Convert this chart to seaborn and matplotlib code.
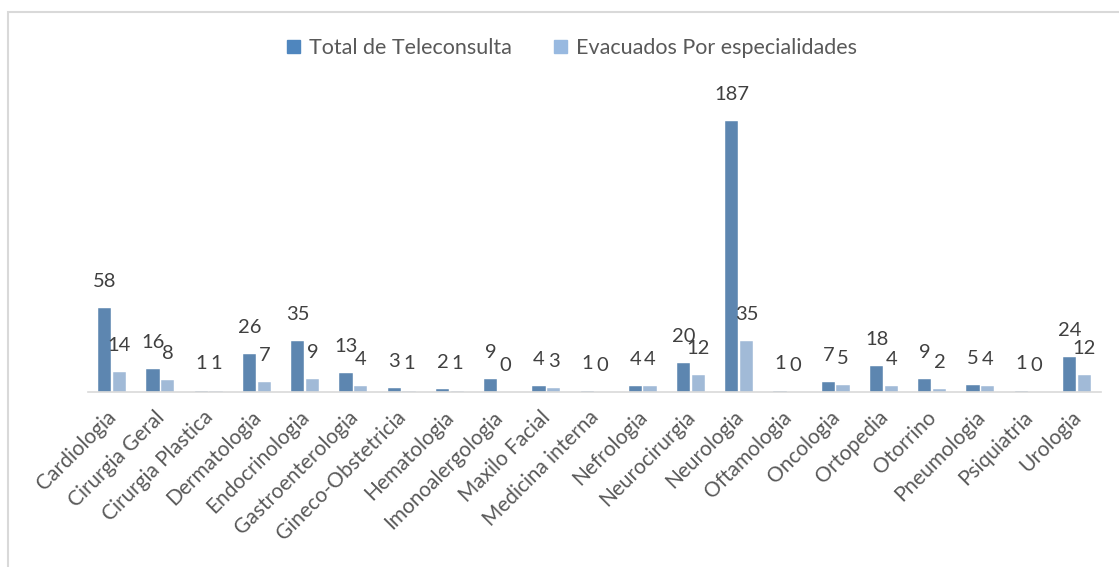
import matplotlib
matplotlib.use("Agg")
import matplotlib.pyplot as plt
import matplotlib.patches as mpatches
import matplotlib.transforms as mtransforms
import pandas as pd
import seaborn as sns

especialidades = [
    "Cardiologia", "Cirurgia Geral", "Cirurgia Plastica", "Dermatologia",
    "Endocrinologia", "Gastroenterologia", "Gineco-Obstetricia", "Hematologia",
    "Imonoalergologia", "Maxilo Facial", "Medicina interna", "Nefrologia",
    "Neurocirurgia", "Neurologia", "Oftamologia", "Oncologia", "Ortopedia",
    "Otorrino", "Pneumologia", "Psiquiatria", "Urologia",
]
total_teleconsulta = [58, 16, 1, 26, 35, 13, 3, 2, 9, 4, 1, 4, 20, 187, 1, 7, 18, 9, 5, 1, 24]
evacuados = [14, 8, 1, 7, 9, 4, 1, 1, 0, 3, 0, 4, 12, 35, 0, 5, 4, 2, 4, 0, 12]
series_names = ["Total de Teleconsulta", "Evacuados Por especialidades"]
series_colors = ["#4F86BE", "#98B9E0"]

df = pd.DataFrame({
    "Especialidade": especialidades * 2,
    "Serie": [series_names[0]] * len(especialidades) + [series_names[1]] * len(especialidades),
    "Valor": total_teleconsulta + evacuados,
})

sns.set_theme(style="white")
plt.rcParams["font.family"] = ["Lato", "DejaVu Sans"]

fig = plt.figure(figsize=(11.19, 5.67), dpi=100)
ax = fig.add_axes([88 / 1119, 1 - 392 / 567, (1101 - 88) / 1119, 290 / 567])

sns.barplot(
    data=df, x="Especialidade", y="Valor", hue="Serie",
    palette=series_colors, width=0.61, gap=0.1, ax=ax,
    edgecolor="white", linewidth=0.3, legend=False,
)

for container in ax.containers:
    ax.bar_label(container, padding=13, fontsize=14.5, color="#404040")

ax.set_ylim(0, 200)
ax.set_xlim(-0.5, len(especialidades) - 0.5)
ax.set_xlabel("")
ax.set_ylabel("")
ax.set_yticks([])
for side in ["left", "right", "top"]:
    ax.spines[side].set_visible(False)
ax.spines["bottom"].set_color("#D9D9D9")
ax.spines["bottom"].set_linewidth(1.2)
ax.tick_params(axis="x", length=0, pad=8)
shift = mtransforms.ScaledTranslation(-6 / 100, -4 / 100, fig.dpi_scale_trans)
for lbl in ax.get_xticklabels():
    lbl.set_rotation(45)
    lbl.set_ha("right")
    lbl.set_rotation_mode("anchor")
    lbl.set_fontsize(15)
    lbl.set_color("#595959")
    lbl.set_transform(lbl.get_transform() + shift)

handles = [mpatches.Patch(color=c, label=n) for c, n in zip(series_colors, series_names)]
fig.legend(handles=handles, loc="center", bbox_to_anchor=(572 / 1119, 1 - 48 / 567),
           ncol=2, frameon=False, fontsize=15.5, handlelength=0.6, handleheight=0.6,
           handletextpad=0.4, columnspacing=2.0, labelcolor="#595959")

# chart area frame
fig.patches.append(mpatches.Rectangle(
    (7.5 / 1119, -0.1), 1.2, 1 - 11.5 / 567 + 0.1, transform=fig.transFigure,
    fill=False, edgecolor="#D9D9D9", linewidth=1.5))

fig.savefig("out.png", dpi=100, facecolor="white")
